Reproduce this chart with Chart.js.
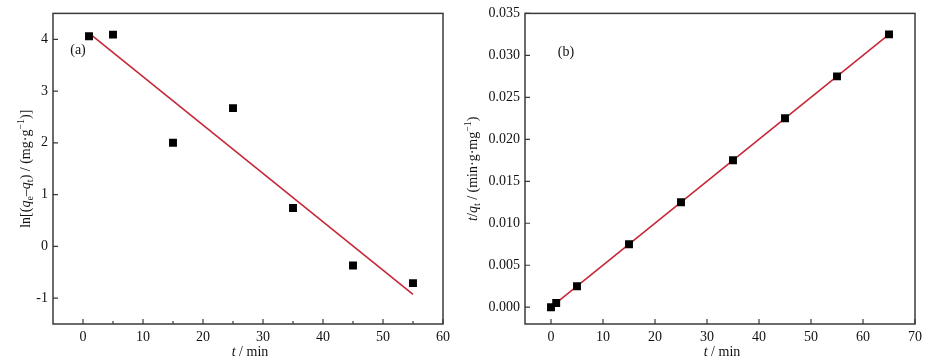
<!DOCTYPE html>
<html>
<head>
<meta charset="utf-8">
<script src="https://cdn.jsdelivr.net/npm/chart.js@4.4.1/dist/chart.umd.min.js"></script>
<style>
  html, body { margin: 0; padding: 0; background: #fff; }
  #wrap { position: relative; width: 945px; height: 364px; overflow: hidden; }
  canvas { position: absolute; top: 0; }
</style>
</head>
<body>
<div id="wrap">
  <canvas id="chartA" width="455" height="364" style="left:0"></canvas>
  <canvas id="chartB" width="490" height="364" style="left:455px"></canvas>
</div>
<script>
// ---------- data (a) ----------
const aX = [1, 5, 15, 25, 35, 45, 55];
const aY = [4.06, 4.09, 2.00, 2.67, 0.74, -0.37, -0.71];
const aFitX = [1, 55];
const aFitY = [4.12, -0.93];
const aXTicks = [0, 10, 20, 30, 40, 50, 60];
const aXMinor = [5, 15, 25, 35, 45, 55];
const aYTicks = [-1, 0, 1, 2, 3, 4];

// ---------- data (b) ----------
const bX = [0, 1, 5, 15, 25, 35, 45, 55, 65];
const bY = [0.0000, 0.0005, 0.0025, 0.0075, 0.0125, 0.0175, 0.0225, 0.0275, 0.0325];
const bFitX = [0, 65];
const bFitY = [0.0000, 0.0325];
const bXTicks = [0, 10, 20, 30, 40, 50, 60, 70];
const bYTicks = [0.000, 0.005, 0.010, 0.015, 0.020, 0.025, 0.030, 0.035];

const FONT = '"Liberation Serif", "Times New Roman", serif';
const FRAME = '#3a3a3a';
const RED = '#c62839';

function pts(xs, ys) { return xs.map((x, i) => ({ x: x, y: ys[i] })) }

// rich text: runs of {t, s} where s = n | i | sub | sup
function drawRich(ctx, runs, size) {
  const fontFor = r => {
    const sz = (r.s === 'sub' || r.s === 'sup') ? Math.round(size * 0.68) : size;
    return (r.s === 'i' ? 'italic ' : '') + sz + 'px ' + FONT;
  };
  let total = 0;
  runs.forEach(r => { ctx.font = fontFor(r); total += ctx.measureText(r.t).width });
  let x = -total / 2;
  ctx.textAlign = 'left';
  ctx.textBaseline = 'alphabetic';
  runs.forEach(r => {
    ctx.font = fontFor(r);
    const dy = r.s === 'sub' ? 3 : r.s === 'sup' ? -6 : 0;
    ctx.fillText(r.t, x, size * 0.35 + dy);
    x += ctx.measureText(r.t).width;
  });
}

const framePlugin = {
  id: 'frame',
  afterDraw(chart, args, opts) {
    const ctx = chart.ctx, a = chart.chartArea;
    const xs = chart.scales.x, ys = chart.scales.y;
    ctx.save();
    ctx.strokeStyle = FRAME;
    ctx.lineWidth = 1.5;
    ctx.strokeRect(a.left, a.top, a.right - a.left, a.bottom - a.top);
    ctx.lineWidth = 1.2;
    ctx.beginPath();
    opts.xTicks.forEach(v => {
      const p = xs.getPixelForValue(v);
      ctx.moveTo(p, a.bottom); ctx.lineTo(p, a.bottom - 5);
    });
    (opts.xMinor || []).forEach(v => {
      const p = xs.getPixelForValue(v);
      ctx.moveTo(p, a.bottom); ctx.lineTo(p, a.bottom - 3);
    });
    opts.yTicks.forEach(v => {
      const p = ys.getPixelForValue(v);
      ctx.moveTo(a.left, p); ctx.lineTo(a.left + 5, p);
    });
    ctx.stroke();

    ctx.fillStyle = '#111';
    // panel tag
    ctx.font = '14px ' + FONT;
    ctx.textAlign = 'center';
    ctx.textBaseline = 'middle';
    ctx.fillText(opts.tag, opts.tagX, opts.tagY);

    // x title
    ctx.save();
    ctx.translate((a.left + a.right) / 2 + 2, 351);
    drawRich(ctx, [{ t: 't', s: 'i' }, { t: ' / min', s: 'n' }], 14);
    ctx.restore();

    // y title
    ctx.save();
    ctx.translate(opts.yTitleX, (a.top + a.bottom) / 2);
    ctx.rotate(-Math.PI / 2);
    drawRich(ctx, opts.yTitle, 14);
    ctx.restore();
    ctx.restore();
  }
};

function makeChart(id, cfg) {
  new Chart(document.getElementById(id), {
    type: 'scatter',
    data: {
      datasets: [
        {
          type: 'line',
          data: pts(cfg.fitX, cfg.fitY),
          borderColor: RED,
          borderWidth: 1.6,
          pointRadius: 0,
          fill: false,
          order: 2
        },
        {
          data: pts(cfg.x, cfg.y),
          pointStyle: 'rect',
          pointRadius: 5.6,
          backgroundColor: '#000',
          borderColor: '#000',
          borderWidth: 0,
          order: 1
        }
      ]
    },
    options: {
      responsive: false,
      animation: false,
      layout: { padding: { left: 0, right: cfg.padRight, top: 9, bottom: 0 } },
      plugins: {
        legend: { display: false },
        tooltip: { enabled: false },
        frame: cfg.frame
      },
      scales: {
        x: {
          type: 'linear',
          min: cfg.xMin, max: cfg.xMax,
          grid: { display: false, drawTicks: false },
          border: { display: false },
          afterBuildTicks: s => { s.ticks = cfg.xTicks.map(v => ({ value: v })) },
          afterFit: s => { s.height = 40 },
          ticks: {
            padding: 5,
            maxRotation: 0,
            color: '#111',
            font: { family: FONT, size: 14 },
            callback: v => String(v)
          }
        },
        y: {
          type: 'linear',
          min: cfg.yMin, max: cfg.yMax,
          grid: { display: false, drawTicks: false },
          border: { display: false },
          afterBuildTicks: s => { s.ticks = cfg.yTicks.map(v => ({ value: v })) },
          afterFit: s => { s.width = cfg.yWidth },
          ticks: {
            padding: 5,
            color: '#111',
            font: { family: FONT, size: 14 },
            callback: cfg.yFmt
          }
        }
      }
    },
    plugins: [framePlugin]
  });
}

makeChart('chartA', {
  x: aX, y: aY, fitX: aFitX, fitY: aFitY,
  xMin: -5, xMax: 60, yMin: -1.5, yMax: 4.5,
  xTicks: aXTicks, yTicks: aYTicks,
  yWidth: 53, padRight: 12,
  yFmt: v => String(v),
  frame: {
    xTicks: aXTicks, xMinor: aXMinor, yTicks: aYTicks,
    tag: '(a)', tagX: 78, tagY: 50, yTitleX: 25,
    yTitle: [
      { t: 'ln[(', s: 'n' }, { t: 'q', s: 'i' }, { t: 'e', s: 'sub' },
      { t: '\u2013', s: 'n' }, { t: 'q', s: 'i' }, { t: 't', s: 'sub' },
      { t: ') / (mg\u00b7g', s: 'n' }, { t: '\u22121', s: 'sup' }, { t: ')]', s: 'n' }
    ]
  }
});

makeChart('chartB', {
  x: bX, y: bY, fitX: bFitX, fitY: bFitY,
  xMin: -5, xMax: 70, yMin: -0.002, yMax: 0.035,
  xTicks: bXTicks, yTicks: bYTicks,
  yWidth: 70, padRight: 30,
  yFmt: v => Number(v).toFixed(3),
  frame: {
    xTicks: bXTicks, yTicks: bYTicks,
    tag: '(b)', tagX: 111, tagY: 52, yTitleX: 17,
    yTitle: [
      { t: 't', s: 'i' }, { t: '/', s: 'n' }, { t: 'q', s: 'i' }, { t: 't', s: 'sub' },
      { t: ' / (min\u00b7g\u00b7mg', s: 'n' }, { t: '\u22121', s: 'sup' }, { t: ')', s: 'n' }
    ]
  }
});
</script>
</body>
</html>
